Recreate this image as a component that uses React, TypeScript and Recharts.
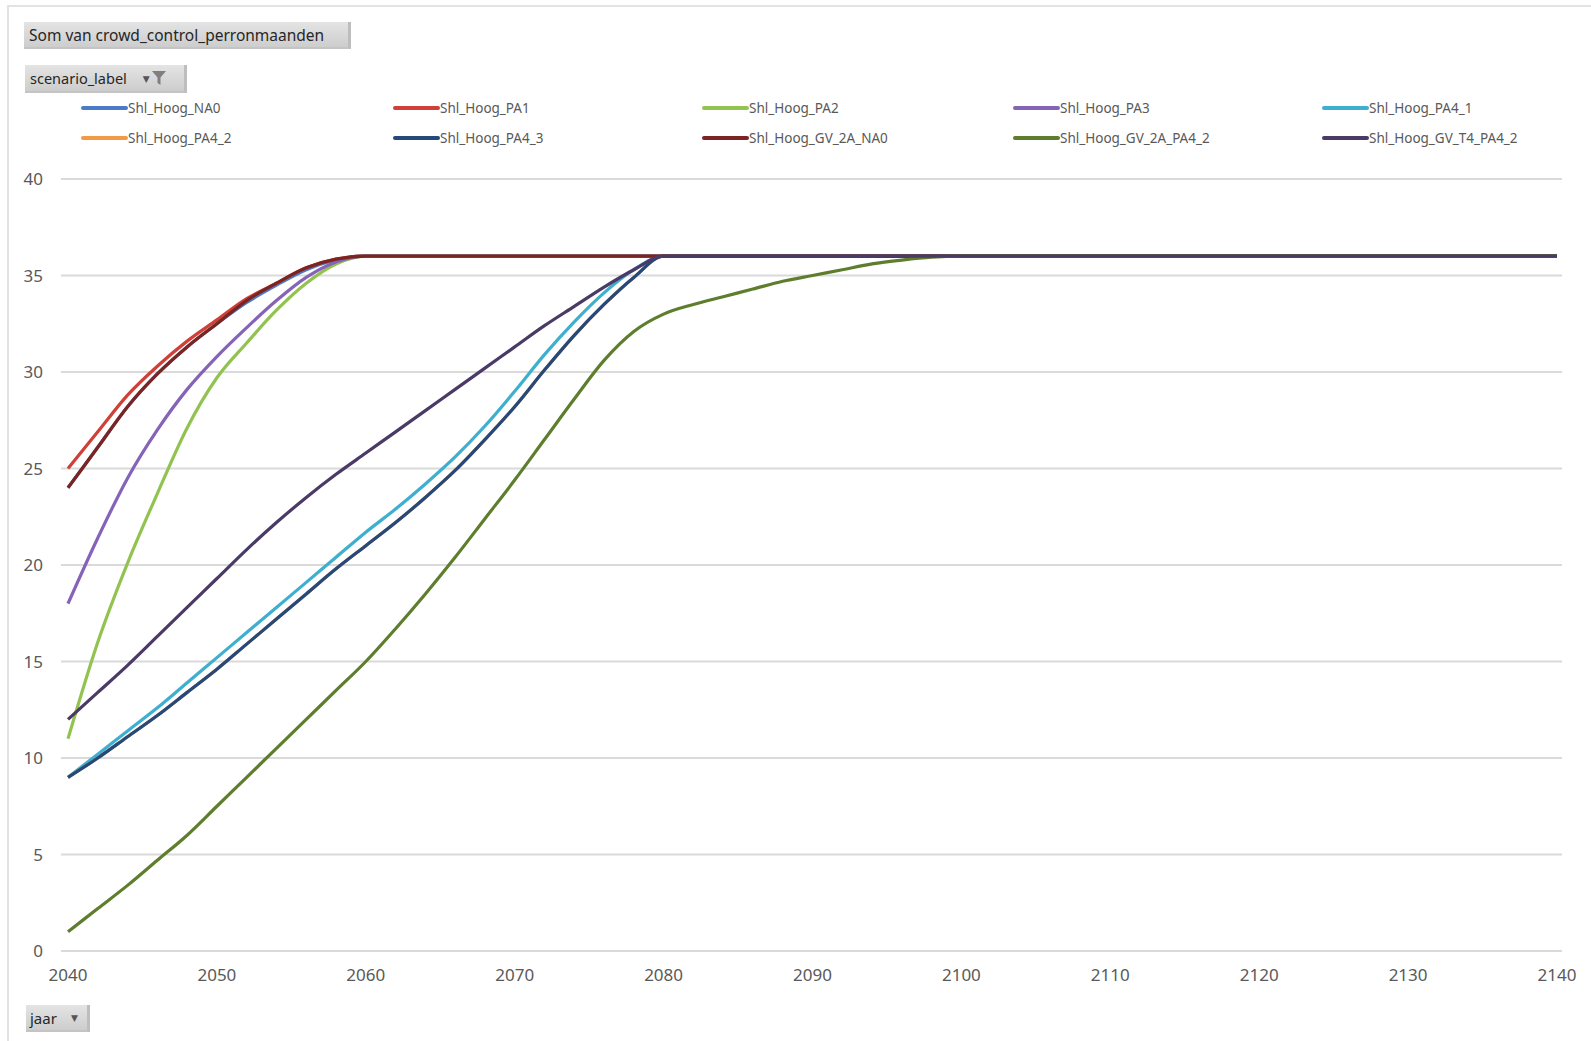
import React from 'react';
import { LineChart, Line, XAxis, YAxis, CartesianGrid } from 'recharts';

// jaar (x) – every 2 years up to 2100, then per decade
const years = [
  2040, 2042, 2044, 2046, 2048, 2050, 2052, 2054, 2056, 2058,
  2060, 2062, 2064, 2066, 2068, 2070, 2072, 2074, 2076, 2078,
  2080, 2082, 2084, 2086, 2088, 2090, 2092, 2094, 2096, 2098,
  2100, 2110, 2120, 2130, 2140,
];

const xTicks = [2040, 2050, 2060, 2070, 2080, 2090, 2100, 2110, 2120, 2130, 2140];
const yTicks = [0, 5, 10, 15, 20, 25, 30, 35, 40];

// Som van crowd_control_perronmaanden per scenario
const shlHoogNA0 = [
  24.0, 26.1, 28.2, 29.9, 31.3, 32.5, 33.6, 34.5, 35.3, 35.8,
  36, 36, 36, 36, 36, 36, 36, 36, 36, 36,
  36, 36, 36, 36, 36, 36, 36, 36, 36, 36,
  36, 36, 36, 36, 36,
];
const shlHoogPA1 = [
  25.0, 26.9, 28.8, 30.3, 31.6, 32.7, 33.8, 34.6, 35.4, 35.85,
  36, 36, 36, 36, 36, 36, 36, 36, 36, 36,
  36, 36, 36, 36, 36, 36, 36, 36, 36, 36,
  36, 36, 36, 36, 36,
];
const shlHoogPA2 = [
  11.0, 16.0, 20.1, 23.7, 27.1, 29.7, 31.5, 33.2, 34.6, 35.6,
  36, 36, 36, 36, 36, 36, 36, 36, 36, 36,
  36, 36, 36, 36, 36, 36, 36, 36, 36, 36,
  36, 36, 36, 36, 36,
];
const shlHoogPA3 = [
  18.0, 21.4, 24.5, 27.0, 29.1, 30.8, 32.3, 33.7, 34.9, 35.7,
  36, 36, 36, 36, 36, 36, 36, 36, 36, 36,
  36, 36, 36, 36, 36, 36, 36, 36, 36, 36,
  36, 36, 36, 36, 36,
];
const shlHoogPA4_1 = [
  9.0, 10.2, 11.4, 12.6, 13.9, 15.2, 16.5, 17.8, 19.1, 20.4,
  21.7, 22.9, 24.2, 25.6, 27.2, 29.0, 30.9, 32.6, 34.1, 35.3,
  36, 36, 36, 36, 36, 36, 36, 36, 36, 36,
  36, 36, 36, 36, 36,
];
const shlHoogPA4_2 = [
  9.0, 10.0, 11.1, 12.2, 13.4, 14.6, 15.9, 17.2, 18.5, 19.8,
  21.0, 22.2, 23.5, 24.9, 26.5, 28.2, 30.1, 31.9, 33.5, 34.9,
  36, 36, 36, 36, 36, 36, 36, 36, 36, 36,
  36, 36, 36, 36, 36,
];
const shlHoogPA4_3 = [
  9.0, 10.0, 11.1, 12.2, 13.4, 14.6, 15.9, 17.2, 18.5, 19.8,
  21.0, 22.2, 23.5, 24.9, 26.5, 28.2, 30.1, 31.9, 33.5, 34.9,
  36, 36, 36, 36, 36, 36, 36, 36, 36, 36,
  36, 36, 36, 36, 36,
];
const shlHoogGV2A_NA0 = [
  24.0, 26.1, 28.2, 29.9, 31.3, 32.5, 33.7, 34.6, 35.4, 35.85,
  36, 36, 36, 36, 36, 36, 36, 36, 36, 36,
  36, 36, 36, 36, 36, 36, 36, 36, 36, 36,
  36, 36, 36, 36, 36,
];
const shlHoogGV2A_PA4_2 = [
  1.0, 2.2, 3.4, 4.7, 6.0, 7.5, 9.0, 10.5, 12.0, 13.5,
  15.0, 16.7, 18.5, 20.4, 22.4, 24.4, 26.5, 28.6, 30.6, 32.1,
  33.0, 33.5, 33.9, 34.3, 34.7, 35.0, 35.3, 35.6, 35.8, 35.95,
  36, 36, 36, 36, 36,
];
const shlHoogGVT4_PA4_2 = [
  12.0, 13.4, 14.8, 16.3, 17.8, 19.3, 20.8, 22.2, 23.5, 24.7,
  25.8, 26.9, 28.0, 29.1, 30.2, 31.3, 32.4, 33.4, 34.4, 35.3,
  36, 36, 36, 36, 36, 36, 36, 36, 36, 36,
  36, 36, 36, 36, 36,
];

const series = [
  { name: 'Shl_Hoog_NA0', color: '#4A7BC8', values: shlHoogNA0 },
  { name: 'Shl_Hoog_PA1', color: '#CF4038', values: shlHoogPA1 },
  { name: 'Shl_Hoog_PA2', color: '#92C350', values: shlHoogPA2 },
  { name: 'Shl_Hoog_PA3', color: '#8563B8', values: shlHoogPA3 },
  { name: 'Shl_Hoog_PA4_1', color: '#3FAFD0', values: shlHoogPA4_1 },
  { name: 'Shl_Hoog_PA4_2', color: '#F39A45', values: shlHoogPA4_2 },
  { name: 'Shl_Hoog_PA4_3', color: '#24497A', values: shlHoogPA4_3 },
  { name: 'Shl_Hoog_GV_2A_NA0', color: '#7B2421', values: shlHoogGV2A_NA0 },
  { name: 'Shl_Hoog_GV_2A_PA4_2', color: '#5E7E2E', values: shlHoogGV2A_PA4_2 },
  { name: 'Shl_Hoog_GV_T4_PA4_2', color: '#4A3A66', values: shlHoogGVT4_PA4_2 },
];

const chartData = years.map((year, i) => {
  const row: Record<string, number> = { year };
  series.forEach((s) => {
    row[s.name] = s.values[i];
  });
  return row;
});

const FONT = '"Noto Sans", "DejaVu Sans", sans-serif';
const LABEL = '#595959';

const legendCols = [81, 393, 702, 1013, 1322];
const legendRows = [108, 138];

const buttonStyle: React.CSSProperties = {
  position: 'absolute',
  background: 'linear-gradient(#e4e4e4, #cdcdcd)',
  borderRight: '3px solid #bdbdbd',
  borderBottom: '2px solid #c4c4c4',
  boxSizing: 'border-box',
  color: '#262626',
  fontFamily: FONT,
  display: 'flex',
  alignItems: 'center',
  whiteSpace: 'nowrap',
};

function FilterIcon() {
  return (
    <svg width="14" height="16" viewBox="0 0 14 16">
      <path d="M0 1 H14 L8.5 7.5 V15 L5.5 13 V7.5 Z" fill="#7f7f7f" />
    </svg>
  );
}

export default function App() {
  return (
    <div
      style={{
        position: 'fixed',
        left: 0,
        top: 0,
        width: 1591,
        height: 1041,
        background: '#ffffff',
        overflow: 'hidden',
      }}
    >
      {/* chart frame */}
      <div
        style={{
          position: 'absolute',
          left: 7,
          top: 5,
          width: 1600,
          height: 1060,
          borderTop: '2px solid #e3e3e3',
          borderLeft: '2px solid #e3e3e3',
        }}
      />

      <div style={{ ...buttonStyle, left: 24, top: 22, width: 327, height: 27, paddingLeft: 5, fontSize: 15.5 }}>
        Som van crowd_control_perronmaanden
      </div>

      <div style={{ ...buttonStyle, left: 25, top: 65, width: 162, height: 28, paddingLeft: 5, fontSize: 14.5 }}>
        scenario_label
        <span style={{ marginLeft: 16, fontSize: 9, color: '#555' }}>▼</span>
        <span style={{ marginLeft: 2, display: 'flex' }}>
          <FilterIcon />
        </span>
      </div>

      {series.map((s, i) => (
        <div
          key={s.name}
          style={{
            position: 'absolute',
            left: legendCols[i % 5],
            top: legendRows[Math.floor(i / 5)] - 10,
            height: 20,
            display: 'flex',
            alignItems: 'center',
            fontFamily: FONT,
            fontSize: 13.5,
            color: LABEL,
            whiteSpace: 'nowrap',
          }}
        >
          <div style={{ width: 47, height: 4, background: s.color, borderRadius: 2 }} />
          <span>{s.name}</span>
        </div>
      ))}

      <div style={{ position: 'absolute', left: 0, top: 0 }}>
        <LineChart
          width={1591}
          height={1041}
          data={chartData}
          margin={{ top: 179, right: 29, bottom: 50, left: 0 }}
        >
          <CartesianGrid horizontal vertical={false} stroke="#dadada" strokeWidth={2} />
          <XAxis
            dataKey="year"
            type="number"
            domain={[2040, 2140]}
            ticks={xTicks}
            axisLine={false}
            tickLine={false}
            tickSize={0}
            tickMargin={18}
            height={40}
            padding={{ left: 7, right: 5 }}
            tick={{ fill: LABEL, fontSize: 17, fontFamily: FONT }}
          />
          <YAxis
            type="number"
            domain={[0, 40]}
            ticks={yTicks}
            axisLine={false}
            tickLine={false}
            tickSize={0}
            tickMargin={18}
            width={61}
            tick={{ fill: LABEL, fontSize: 17, fontFamily: FONT }}
          />
          {series.map((s) => (
            <Line
              key={s.name}
              type="monotone"
              dataKey={s.name}
              stroke={s.color}
              strokeWidth={3.2}
              dot={false}
              activeDot={false}
              isAnimationActive={false}
            />
          ))}
        </LineChart>
      </div>

      <div style={{ ...buttonStyle, left: 26, top: 1005, width: 64, height: 27, paddingLeft: 4, fontSize: 15 }}>
        jaar
        <span style={{ marginLeft: 14, fontSize: 9, color: '#555' }}>▼</span>
      </div>
    </div>
  );
}
